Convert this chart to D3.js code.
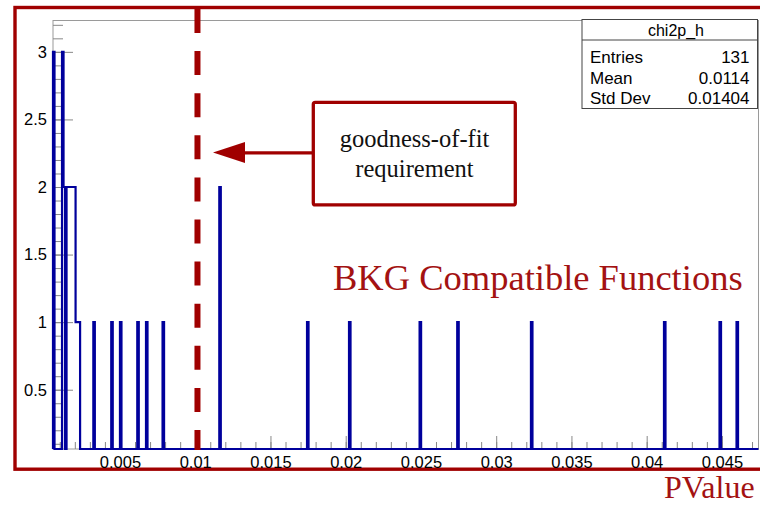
<!DOCTYPE html>
<html>
<head>
<meta charset="utf-8">
<script src="https://cdn.jsdelivr.net/npm/d3@7"></script>
<style>
  html, body { margin: 0; padding: 0; background: #fff; overflow: hidden; }
  svg { display: block; }
</style>
</head>
<body>
<svg id="chart" width="760" height="506"></svg>
<script>
// ---- data ----
const xDomain = [0.00055, 0.04743];
const yDomain = [0.0614, 3.232];
const binWidth = 0.0001;
const binLow = [0.00055, 0.00115, 0.00125, 0.00145, 0.00155, 0.00165, 0.00175, 0.00185, 0.00195,
                0.00205, 0.00215, 0.00225,
                0.00323, 0.00442, 0.00500, 0.00615, 0.00673, 0.00783,
                0.01160, 0.01743, 0.02022, 0.02491, 0.02741, 0.03231, 0.04115, 0.04484, 0.04597];
const binCount = [3, 3, 2, 2, 2, 2, 2, 2, 2,
                  1, 1, 1,
                  1, 1, 1, 1, 1, 1,
                  2, 1, 1, 1, 1, 1, 1, 1, 1];
const xMajorTicks = [0.005, 0.01, 0.015, 0.02, 0.025, 0.03, 0.035, 0.04, 0.045];
const xTickLabels = ["0.005", "0.01", "0.015", "0.02", "0.025", "0.03", "0.035", "0.04", "0.045"];
const yMajorTicks = [0.5, 1, 1.5, 2, 2.5, 3];
const yTickLabels = ["0.5", "1", "1.5", "2", "2.5", "3"];
const statsTitle = "chi2p_h";
const statsNames = ["Entries", "Mean", "Std Dev"];
const statsValues = ["131", "0.0114", "0.01404"];
const cutValue = 0.01015;
const noteLines = ["goodness-of-fit", "requirement"];
const bigLabel = "BKG Compatible Functions";
const xTitle = "PValue";

// ---- layout ----
const RED = "#a00000";
const BLUE = "#00009c";
const svg = d3.select("#chart");
const plot = { left: 53, right: 758.5, top: 20.5, bottom: 449 };

const x = d3.scaleLinear().domain(xDomain).range([plot.left, plot.right]);
const y = d3.scaleLinear().domain(yDomain).range([plot.bottom, plot.top]);

// outer red frame
svg.append("rect").attr("x", 15).attr("y", 7.5).attr("width", 800).attr("height", 461.7)
  .attr("fill", "#fff").attr("stroke", RED).attr("stroke-width", 3.4);

// plot frame
svg.append("rect").attr("x", plot.left).attr("y", plot.top)
  .attr("width", plot.right - plot.left).attr("height", plot.bottom - plot.top)
  .attr("fill", "none").attr("stroke", "#9a9a9a").attr("stroke-width", 1);

// minor ticks
const xMinor = d3.range(1, 48).map(i => i * 0.001).filter(v => v > xDomain[0] && v < xDomain[1]);
const yMinor = d3.range(1, 33).map(i => i * 0.1).filter(v => v > yDomain[0] && v < yDomain[1]);

function styleAxis(g) {
  g.select(".domain").remove();
  g.selectAll(".tick line").attr("stroke", "#888").attr("stroke-width", 1);
  g.selectAll(".tick text").attr("fill", "#000")
    .attr("font-family", "'Liberation Sans', Arial, sans-serif").attr("font-size", 16.5);
}

svg.append("g").attr("transform", `translate(0,${plot.bottom})`)
  .call(d3.axisBottom(x).tickValues(xMinor).tickSizeInner(-7).tickSizeOuter(0).tickFormat(""))
  .call(styleAxis);
svg.append("g").attr("transform", `translate(0,${plot.bottom})`)
  .call(d3.axisBottom(x).tickValues(xMajorTicks).tickSizeInner(-13).tickSizeOuter(0)
    .tickPadding(7).tickFormat((d, i) => xTickLabels[i]))
  .call(styleAxis);

svg.append("g").attr("transform", `translate(${plot.left},0)`)
  .call(d3.axisLeft(y).tickValues(yMinor).tickSizeInner(-10).tickSizeOuter(0).tickFormat(""))
  .call(styleAxis);
svg.append("g").attr("transform", `translate(${plot.left},0)`)
  .call(d3.axisLeft(y).tickValues(yMajorTicks).tickSizeInner(-20).tickSizeOuter(0)
    .tickPadding(6).tickFormat((d, i) => yTickLabels[i]))
  .call(styleAxis);

// histogram outline
const bins = binLow.map((lo, i) => ({ lo, hi: lo + binWidth, c: binCount[i] }))
  .sort((a, b) => a.lo - b.lo);
const clampY = v => y(Math.max(yDomain[0], Math.min(yDomain[1], v)));
const pts = [];
let prevHi = xDomain[0];
pts.push([x(xDomain[0]), clampY(0)]);
bins.forEach(b => {
  if (b.lo > prevHi + 1e-12) {
    pts.push([x(prevHi), clampY(0)]);
    pts.push([x(b.lo), clampY(0)]);
  }
  pts.push([x(b.lo), clampY(b.c)]);
  pts.push([x(b.hi), clampY(b.c)]);
  prevHi = b.hi;
});
pts.push([x(prevHi), clampY(0)]);
pts.push([x(xDomain[1]), clampY(0)]);
svg.append("path").attr("d", d3.line()(pts))
  .attr("fill", "none").attr("stroke", BLUE).attr("stroke-width", 2.2)
  .attr("stroke-linejoin", "miter");

// stats box
const sb = { x: 582, y: 19.5, w: 175.5, h: 89 };
const stats = svg.append("g");
stats.append("rect").attr("x", sb.x).attr("y", sb.y).attr("width", sb.w).attr("height", sb.h)
  .attr("fill", "#fff").attr("stroke", "#444").attr("stroke-width", 1);
stats.append("line").attr("x1", sb.x).attr("x2", sb.x + sb.w).attr("y1", 40).attr("y2", 40)
  .attr("stroke", "#444").attr("stroke-width", 1);
stats.append("text").attr("x", 676).attr("y", 35.5).attr("text-anchor", "middle")
  .attr("font-family", "'Liberation Sans', Arial, sans-serif").attr("font-size", 16)
  .text(statsTitle);
statsNames.forEach((n, i) => {
  stats.append("text").attr("x", 590).attr("y", 63 + i * 20.5)
    .attr("font-family", "'Liberation Sans', Arial, sans-serif").attr("font-size", 17).text(n);
  stats.append("text").attr("x", 749.5).attr("y", 63 + i * 20.5).attr("text-anchor", "end")
    .attr("font-family", "'Liberation Sans', Arial, sans-serif").attr("font-size", 17).text(statsValues[i]);
});

// dashed cut line
svg.append("line").attr("x1", x(cutValue)).attr("x2", x(cutValue)).attr("y1", 9).attr("y2", 450)
  .attr("stroke", RED).attr("stroke-width", 6).attr("stroke-dasharray", "24 18.1");

// arrow + note box
svg.append("line").attr("x1", 240).attr("x2", 313).attr("y1", 152.8).attr("y2", 152.8)
  .attr("stroke", RED).attr("stroke-width", 3.2);
svg.append("path").attr("d", "M213,152.5 L245,142 L245,163 Z").attr("fill", RED);
svg.append("rect").attr("x", 313.3).attr("y", 102.3).attr("width", 202).attr("height", 102.6)
  .attr("rx", 2).attr("fill", "#fff").attr("stroke", RED).attr("stroke-width", 3.3);
noteLines.forEach((t, i) => {
  svg.append("text").attr("x", 414.5).attr("y", 147 + i * 30).attr("text-anchor", "middle")
    .attr("font-family", "'Liberation Serif', 'Times New Roman', serif").attr("font-size", 24.5)
    .attr("fill", "#111").text(t);
});

// big label and axis title
svg.append("text").attr("x", 333).attr("y", 290)
  .attr("font-family", "'Liberation Serif', 'Times New Roman', serif").attr("font-size", 36.5)
  .attr("fill", "#a31212").text(bigLabel);
svg.append("text").attr("x", 664).attr("y", 498)
  .attr("font-family", "'Liberation Serif', 'Times New Roman', serif").attr("font-size", 32)
  .attr("fill", "#a31212").text(xTitle);
</script>
</body>
</html>
